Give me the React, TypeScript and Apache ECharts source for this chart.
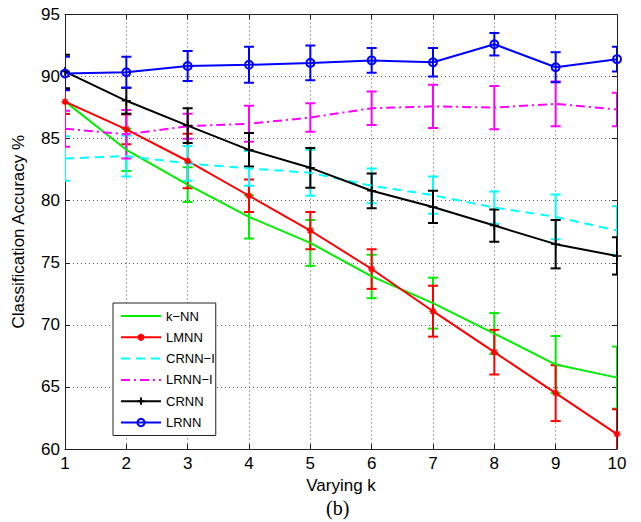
import React, { useEffect, useRef } from "react";
import * as echarts from "echarts";

const K = [1, 2, 3, 4, 5, 6, 7, 8, 9, 10];
const knnMean = [88.0, 84.1, 81.3, 78.7, 76.6, 73.9, 71.75, 69.3, 66.8, 65.75];
const knnErr = [1.0, 1.7, 1.4, 1.75, 1.85, 1.75, 2.05, 1.65, 2.3, 2.5];
const lmnnMean = [87.98, 85.75, 83.2, 80.4, 77.6, 74.5, 71.1, 67.8, 64.5, 61.2];
const lmnnErr = [1.0, 1.2, 2.2, 1.3, 1.5, 1.6, 2.05, 1.8, 2.25, 2.0];
const crnnIMean = [83.4, 83.6, 83.0, 82.6, 82.25, 81.2, 80.45, 79.45, 78.7, 77.6];
const crnnIErr = [1.8, 1.65, 1.4, 1.4, 1.85, 1.4, 1.5, 1.3, 1.8, 1.95];
const lrnnIMean = [85.8, 85.35, 86.0, 86.2, 86.7, 87.45, 87.6, 87.5, 87.8, 87.35];
const lrnnIErr = [1.45, 1.95, 1.0, 1.45, 1.15, 1.35, 1.75, 1.75, 1.8, 1.35];
const crnnMean = [90.4, 88.05, 86.05, 84.1, 82.65, 80.8, 79.5, 78.0, 76.5, 75.55];
const crnnErr = [1.35, 1.05, 1.4, 1.35, 1.6, 1.4, 1.3, 1.3, 1.95, 1.5];
const lrnnMean = [90.25, 90.35, 90.85, 90.95, 91.1, 91.3, 91.15, 92.6, 90.75, 91.4];
const lrnnErr = [1.35, 1.25, 1.2, 1.45, 1.4, 1.0, 1.15, 0.9, 1.2, 1.0];

const FONT = "'Liberation Sans', Arial, Helvetica, sans-serif";

const STAR = "path://M5,0L5,10M0,5L10,5M1.5,1.5L8.5,8.5M1.5,8.5L8.5,1.5";
const PLUS = "path://M5,0L5,10M0,5L10,5";

type Method = {
  name: string;
  mean: number[];
  err: number[];
  color: string;
  lineType: any;
  symbol: string | null;
  symbolSize: number;
};

const methods: Method[] = [
  { name: "k\u2212NN", mean: knnMean, err: knnErr, color: "#00ee00", lineType: "solid", symbol: null, symbolSize: 0 },
  { name: "LMNN", mean: lmnnMean, err: lmnnErr, color: "#ff0000", lineType: "solid", symbol: STAR, symbolSize: 7 },
  { name: "CRNN\u2212I", mean: crnnIMean, err: crnnIErr, color: "#00ffff", lineType: [9, 6], symbol: null, symbolSize: 0 },
  { name: "LRNN\u2212I", mean: lrnnIMean, err: lrnnIErr, color: "#ff00ff", lineType: [9, 4, 2, 4], symbol: null, symbolSize: 0 },
  { name: "CRNN", mean: crnnMean, err: crnnErr, color: "#000000", lineType: "solid", symbol: PLUS, symbolSize: 9 },
  { name: "LRNN", mean: lrnnMean, err: lrnnErr, color: "#0000ff", lineType: "solid", symbol: "circle", symbolSize: 8 },
];

export default function App() {
  const ref = useRef<HTMLDivElement>(null);
  useEffect(() => {
    document.body.style.margin = "0";
    const chart = echarts.init(ref.current!, null, { renderer: "svg" });
    const series: any[] = [];
    methods.forEach((m) => {
      series.push({
        name: m.name + " err",
        type: "custom",
        clip: true,
        xAxisIndex: 0,
        yAxisIndex: 0,
        data: K.map((k, i) => [k, m.mean[i] - m.err[i], m.mean[i] + m.err[i]]),
        encode: { x: 0, y: [1, 2] },
        renderItem: (params: any, api: any) => {
          const x = api.value(0);
          const lo = api.coord([x, api.value(1)]);
          const hi = api.coord([x, api.value(2)]);
          const w = 5;
          const st = { stroke: m.color, lineWidth: 2 };
          return {
            type: "group",
            children: [
              { type: "line", shape: { x1: lo[0], y1: lo[1], x2: hi[0], y2: hi[1] }, style: st },
              { type: "line", shape: { x1: lo[0] - w, y1: lo[1], x2: lo[0] + w, y2: lo[1] }, style: st },
              { type: "line", shape: { x1: hi[0] - w, y1: hi[1], x2: hi[0] + w, y2: hi[1] }, style: st },
            ],
          };
        },
        z: 2,
      });
      const hasSym = m.symbol !== null;
      series.push({
        name: m.name,
        type: "line",
        xAxisIndex: 0,
        yAxisIndex: 0,
        data: K.map((k, i) => [k, m.mean[i]]),
        color: m.color,
        symbol: hasSym ? m.symbol : "circle",
        symbolSize: hasSym ? m.symbolSize : 0,
        showSymbol: hasSym,
        lineStyle: { color: m.color, width: 2, type: m.lineType },
        itemStyle: hasSym
          ? { color: "rgba(0,0,0,0)", borderColor: m.color, borderWidth: m.symbol === "circle" ? 2 : 1.5 }
          : { color: "rgba(0,0,0,0)", borderColor: "rgba(0,0,0,0)", borderWidth: 0 },
        z: 2,
      });
    });

    const gridLine = { show: true, lineStyle: { color: "#555", width: 1, type: [1, 3] } };
    const axisLine = { show: true, lineStyle: { color: "#222", width: 1 } };
    const tick = { show: true, inside: true, length: 5, lineStyle: { color: "#222" } };

    chart.setOption({
      animation: false,
      backgroundColor: "#ffffff",
      grid: { left: 65, top: 14.5, width: 552, height: 434.5, show: false },
      xAxis: [
        {
          type: "value",
          min: 1,
          max: 10,
          interval: 1,
          position: "bottom",
          name: "Varying k",
          nameLocation: "middle",
          nameGap: 28,
          nameTextStyle: { fontFamily: FONT, fontSize: 17, color: "#000", verticalAlign: "top" },
          axisLine,
          axisTick: tick,
          axisLabel: { fontFamily: FONT, fontSize: 17, color: "#000", margin: 6 },
          splitLine: gridLine,
        },
        {
          type: "value",
          min: 1,
          max: 10,
          interval: 1,
          position: "top",
          axisLine,
          axisTick: tick,
          axisLabel: { show: false },
          splitLine: { show: false },
        },
      ],
      yAxis: [
        {
          type: "value",
          min: 60,
          max: 95,
          interval: 5,
          position: "left",
          name: "Classification Accuracy %",
          nameLocation: "middle",
          nameGap: 38,
          nameTextStyle: { fontFamily: FONT, fontSize: 17, color: "#000" },
          axisLine,
          axisTick: tick,
          axisLabel: { fontFamily: FONT, fontSize: 17, color: "#000", margin: 5 },
          splitLine: gridLine,
        },
        {
          type: "value",
          min: 60,
          max: 95,
          interval: 5,
          position: "right",
          axisLine,
          axisTick: tick,
          axisLabel: { show: false },
          splitLine: { show: false },
        },
      ],
      legend: {
        data: methods.map((m) => m.name),
        orient: "vertical",
        left: 113,
        top: 303,
        itemWidth: 40,
        itemHeight: 9,
        itemGap: 8.3,
        padding: [6.5, 1, 6.5, 7],
        backgroundColor: "#ffffff",
        borderColor: "#222",
        borderWidth: 1,
        borderRadius: 0,
        textStyle: { fontFamily: FONT, fontSize: 13, color: "#000" },
        selectedMode: false,
      },
      graphic: [
        {
          type: "text",
          left: 326,
          top: 498,
          style: { text: "(b)", font: "20px 'Liberation Serif', 'Times New Roman', serif", fill: "#000" },
        },
      ],
      series,
    });
    return () => chart.dispose();
  }, []);
  return <div ref={ref} style={{ width: 641, height: 522 }} />;
}
